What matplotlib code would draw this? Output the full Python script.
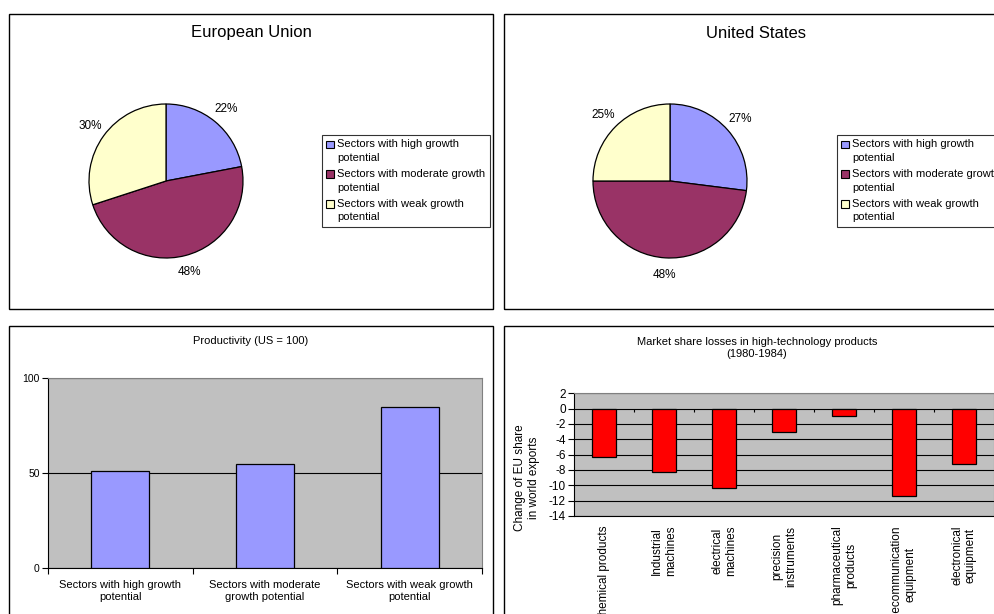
import matplotlib
matplotlib.use('Agg')
import matplotlib.pyplot as plt
import matplotlib.patches as mpatches
from matplotlib.legend_handler import HandlerPatch
import numpy as np

plt.rcParams['font.family'] = ['Liberation Sans', 'DejaVu Sans']
plt.rcParams['axes.unicode_minus'] = False

# ---------------- data ----------------
sectors = ['Sectors with high growth\npotential',
           'Sectors with moderate growth\npotential',
           'Sectors with weak growth\npotential']
eu_shares = [22, 48, 30]
us_shares = [27, 48, 25]
pie_colors = ['#9999FF', '#993366', '#FFFFCC']

prod_labels = ['Sectors with high growth\npotential',
               'Sectors with moderate\ngrowth potential',
               'Sectors with weak growth\npotential']
productivity = [51, 55, 85]
prod_ticks = [0, 50, 100]

products = ['Chemical products', 'Industrial\nmachines', 'electrical\nmachines',
            'precision\ninstruments', 'pharmaceutical\nproducts',
            'telecommunication\nequipment', 'electronical\nequipment']
share_change = [-6.3, -8.3, -10.3, -3.0, -0.9, -11.4, -7.2]
share_ticks = list(range(-14, 3, 2))

# ---------------- layout helpers ----------------
W, H = 995, 614
fig = plt.figure(figsize=(W / 100, H / 100), dpi=100)
fig.patch.set_facecolor('white')


def fx(px):
    return px / W


def fy(py):
    return 1 - py / H


def panel(x0, y0, x1, y1):
    fig.patches.append(mpatches.Rectangle((fx(x0), fy(y1)), fx(x1) - fx(x0), fy(y0) - fy(y1),
                                          transform=fig.transFigure, fill=False,
                                          edgecolor='black', lw=1.0))


panel(9, 14, 493, 309)
panel(504, 14, 1008, 309)
panel(9, 326, 493, 621)
panel(504, 326, 1008, 621)


def top_square(legend, orig_handle, xdescent, ydescent, width, height, fontsize):
    # square aligned with the first line of a two-line label
    return mpatches.Rectangle((-xdescent, -ydescent + 0.62 * fontsize), width, height)


def pie_panel(cx, cy, r, values, title, tx, leg_x, leg_y):
    half = 100
    ax = fig.add_axes([fx(cx - half), fy(cy + half), 2 * half / W, 2 * half / H])
    ax.pie(values, colors=pie_colors, startangle=90, counterclock=False,
           wedgeprops=dict(edgecolor='black', linewidth=0.9),
           autopct=lambda p: f'{p:.0f}%', pctdistance=1.22,
           textprops=dict(fontsize=8.5, color='black'))
    lim = half / r
    ax.set_xlim(-lim, lim)
    ax.set_ylim(-lim, lim)
    ax.axis('off')
    fig.text(fx(tx), fy(33), title, ha='center', va='center', fontsize=12)
    handles = [mpatches.Patch(facecolor=c, edgecolor='black', lw=0.8) for c in pie_colors]
    leg = fig.legend(handles, sectors, loc='upper left', bbox_to_anchor=(fx(leg_x), fy(leg_y)),
                     frameon=True, fancybox=False, edgecolor='black', fontsize=8,
                     handlelength=0.65, handleheight=0.65, handletextpad=0.3,
                     borderpad=0.4, labelspacing=0.6, borderaxespad=0,
                     handler_map={mpatches.Patch: HandlerPatch(patch_func=top_square)})
    leg.get_frame().set_linewidth(0.8)
    for t in leg.get_texts():
        t.set_linespacing(1.4)


pie_panel(166, 181, 77, eu_shares, 'European Union', 251, 322, 135)
pie_panel(670, 181, 77, us_shares, 'United States', 756, 837, 135)

# ---------------- productivity bars ----------------
ax = fig.add_axes([fx(48), fy(568), (482 - 48) / W, (568 - 378) / H])
ax.set_facecolor('#C0C0C0')
x = np.arange(len(productivity))
ax.bar(x, productivity, width=0.4, color='#9999FF', edgecolor='black', lw=0.9, zorder=3)
ax.set_xlim(-0.5, len(productivity) - 0.5)
ax.set_ylim(prod_ticks[0], prod_ticks[-1])
ax.set_yticks(prod_ticks)
ax.yaxis.grid(True, color='black', lw=0.8)
ax.set_axisbelow(True)
ax.set_xticks(np.arange(-0.5, len(productivity), 1))
ax.set_xticklabels([])
ax.set_xticks(x, minor=True)
ax.set_xticklabels(prod_labels, minor=True)
ax.tick_params(axis='x', which='minor', length=0, pad=9, labelsize=8)
ax.tick_params(axis='x', which='major', length=4, direction='out', width=0.8)
ax.tick_params(axis='y', length=4, width=0.8, labelsize=7.5, pad=2)
for s in ['top', 'right']:
    ax.spines[s].set_color('#808080')
for s in ['left', 'bottom']:
    ax.spines[s].set_color('black')
for s in ax.spines.values():
    s.set_linewidth(0.8)
fig.text(fx(251), fy(341), 'Productivity (US = 100)', ha='center', va='center', fontsize=8)

# ---------------- market share losses ----------------
ax2 = fig.add_axes([fx(574), fy(516), (994 - 574) / W, (516 - 393.3) / H])
ax2.set_facecolor('#C0C0C0')
x2 = np.arange(len(share_change))
ax2.bar(x2, share_change, width=0.4, color='#FF0000', edgecolor='black', lw=0.9, zorder=3)
ax2.set_xlim(-0.5, len(share_change) - 0.5)
ax2.set_ylim(share_ticks[0], share_ticks[-1])
ax2.set_yticks(share_ticks)
ax2.yaxis.grid(True, color='black', lw=0.8)
ax2.set_axisbelow(True)
ax2.vlines(np.arange(0.5, len(share_change) - 1, 1), -0.5, 0, color='black', lw=0.8, zorder=2)
ax2.set_xticks(x2)
ax2.set_xticklabels(products, rotation=90, ha='center', va='top', multialignment='center')
ax2.tick_params(axis='x', length=0, pad=7, labelsize=8.5)
ax2.tick_params(axis='y', length=4, width=0.8, labelsize=8.5, pad=2)
for s in ['top', 'right']:
    ax2.spines[s].set_color('#808080')
for s in ['left', 'bottom']:
    ax2.spines[s].set_color('black')
for s in ax2.spines.values():
    s.set_linewidth(0.8)
fig.text(fx(527), fy(478), 'Change of EU share\nin world exports', rotation=90,
         ha='center', va='center', multialignment='center', fontsize=8.5)
fig.text(fx(757), fy(348), 'Market share losses in high-technology products\n(1980-1984)',
         ha='center', va='center', multialignment='center', fontsize=8, linespacing=1.25)

fig.savefig('out.png', dpi=100, facecolor='white')
